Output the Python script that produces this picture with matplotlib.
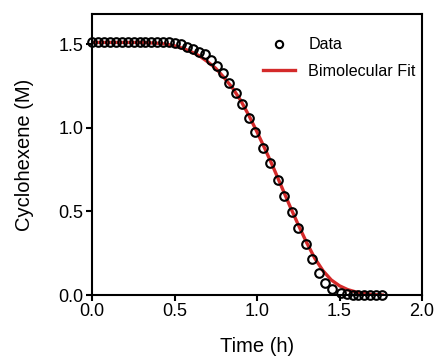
import matplotlib
matplotlib.use("Agg")
import matplotlib.pyplot as plt

plt.rcParams['font.family'] = ['Liberation Sans', 'DejaVu Sans']

# Data (time in h, cyclohexene in M)
t_data = [0.0, 0.036, 0.072, 0.108, 0.144, 0.18, 0.216, 0.252, 0.288, 0.324,
          0.36, 0.396, 0.432, 0.468, 0.504, 0.54, 0.576, 0.612, 0.648, 0.684,
          0.72, 0.756, 0.792, 0.83, 0.87, 0.91, 0.95, 0.99, 1.035, 1.08,
          1.125, 1.165, 1.21, 1.25, 1.295, 1.335, 1.375, 1.415, 1.455, 1.51,
          1.545, 1.58, 1.615, 1.65, 1.685, 1.72, 1.76]
c_data = [1.51, 1.51, 1.51, 1.51, 1.51, 1.51, 1.51, 1.51, 1.51, 1.51,
          1.51, 1.51, 1.51, 1.51, 1.505, 1.50, 1.48, 1.47, 1.455, 1.44,
          1.405, 1.37, 1.325, 1.265, 1.205, 1.14, 1.06, 0.975, 0.88, 0.79,
          0.69, 0.59, 0.495, 0.40, 0.305, 0.215, 0.13, 0.07, 0.035, 0.012,
          0.003, 0.0, 0.0, 0.0, 0.0, 0.0, 0.0]

# Bimolecular fit curve
t_fit = [0.0, 0.1, 0.2, 0.3, 0.4, 0.45, 0.5, 0.55, 0.6, 0.65, 0.7, 0.75,
         0.8, 0.85, 0.9, 0.95, 1.0, 1.05, 1.1, 1.15, 1.2, 1.25, 1.3, 1.35,
         1.4, 1.45, 1.5, 1.55, 1.6, 1.65, 1.7, 1.76]
c_fit = [1.51, 1.51, 1.51, 1.51, 1.505, 1.50, 1.49, 1.475, 1.455, 1.43,
         1.395, 1.355, 1.30, 1.24, 1.165, 1.075, 0.975, 0.87, 0.76, 0.645,
         0.53, 0.42, 0.315, 0.22, 0.145, 0.09, 0.055, 0.032, 0.018, 0.009,
         0.003, 0.0]

fig = plt.figure(figsize=(4.36, 3.57), dpi=100)
ax = fig.add_axes([92/436, 1-295/357, 330/436, 281/357])

ax.plot(t_fit, c_fit, color='#d42a2a', lw=2.4, label='Bimolecular Fit', zorder=2)
ax.plot(t_data, c_data, 'o', ms=6.2, mfc='none', mec='black', mew=1.5,
        label='Data', zorder=3, clip_on=False)

ax.set_xlim(0, 2.0)
ax.set_ylim(0, 1.68)
ax.set_xticks([0.0, 0.5, 1.0, 1.5, 2.0])
ax.set_yticks([0.0, 0.5, 1.0, 1.5])
ax.xaxis.set_major_formatter(matplotlib.ticker.FormatStrFormatter('%.1f'))
ax.yaxis.set_major_formatter(matplotlib.ticker.FormatStrFormatter('%.1f'))
for s in ax.spines.values():
    s.set_linewidth(1.5)
ax.tick_params(direction='out', length=4, width=1.5, labelsize=13, pad=2)

ax.set_xlabel('Time (h)', fontsize=14.5, labelpad=12)
ax.set_ylabel('Cyclohexene (M)', fontsize=14.5, labelpad=18)

h, l = ax.get_legend_handles_labels()
fig.legend([h[1], h[0]], [l[1], l[0]], loc='upper left',
           bbox_to_anchor=(248/436, 1-23/357), frameon=False, fontsize=11.6,
           handlelength=2.0, handletextpad=0.85, labelspacing=0.7,
           borderpad=0.4, markerscale=0.85)

fig.savefig('out.png', dpi=100)
